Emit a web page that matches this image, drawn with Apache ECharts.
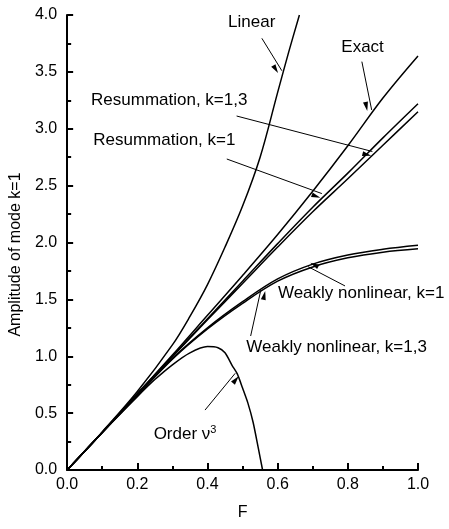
<!DOCTYPE html>
<html><head><meta charset="utf-8">
<script src="https://cdn.jsdelivr.net/npm/echarts@6/dist/echarts.min.js"></script>
<style>html,body{margin:0;padding:0;background:#fff}#c{width:449px;height:529px}</style>
</head><body><div id="c"></div>
<script>
// Shared forcing grid
const F = [0, 0.1, 0.2, 0.3, 0.4, 0.5, 0.6, 0.7, 0.8, 0.9, 1.0];
const exactA    = [0, 0.33, 0.67, 1.01, 1.36, 1.71, 2.07, 2.45, 2.85, 3.27, 3.64];
const resum13A  = [0, 0.33, 0.67, 1.00, 1.33, 1.66, 1.99, 2.31, 2.61, 2.92, 3.22];
const resum1A   = [0, 0.33, 0.665, 0.995, 1.32, 1.64, 1.96, 2.27, 2.56, 2.855, 3.15];
const weak1A    = [0, 0.33, 0.655, 0.98, 1.25, 1.48, 1.68, 1.81, 1.89, 1.94, 1.975];
const weak13A   = [0, 0.33, 0.655, 0.975, 1.24, 1.465, 1.66, 1.785, 1.865, 1.915, 1.945];
// Linear
const linearF = [0, 0.1, 0.2, 0.3, 0.35, 0.4, 0.45, 0.5, 0.55, 0.6, 0.632, 0.662];
const linearA = [0, 0.335, 0.69, 1.10, 1.35, 1.63, 1.96, 2.32, 2.75, 3.32, 3.68, 4.0];
// Order nu^3
const order3F = [0, 0.1, 0.2, 0.25, 0.3, 0.35, 0.4, 0.43, 0.45, 0.47, 0.485, 0.5, 0.515, 0.53, 0.545, 0.557];
const order3A = [0, 0.33, 0.645, 0.795, 0.925, 1.03, 1.085, 1.075, 1.03, 0.92, 0.845, 0.72, 0.59, 0.42, 0.19, 0];
// Annotation texts and anchor points (data coords)
const labelTexts = ['Linear', 'Exact', 'Resummation, k=1,3', 'Resummation, k=1', 'Weakly nonlinear, k=1', 'Weakly nonlinear, k=1,3', '{a|Order ν}{s|3}'];
const labelF = [0.526, 0.842, 0.291, 0.277, 0.838, 0.768, 0.336];
const labelA = [3.94, 3.714, 3.247, 2.894, 1.553, 1.077, 0.316];
// Arrows: from (F,A) to (F,A)
const arrowFromF = [0.555, 0.840, 0.483, 0.455, 0.792, 0.523, 0.393];
const arrowFromA = [3.795, 3.59, 3.112, 2.734, 1.618, 1.178, 0.527];
const arrowToF   = [0.612, 0.868, 0.870, 0.726, 0.687, 0.552, 0.479];
const arrowToA   = [3.51, 3.165, 2.80, 2.43, 1.787, 1.582, 0.850];

const FONT = 'Liberation Sans, Arial, sans-serif';
const zip = (xs, ys) => xs.map((x, i) => [x, ys[i]]);
const lineStyle = { color: '#000', width: 1.5 };
function curve(name, xs, ys, extra) {
  return Object.assign({
    name, type: 'line', data: zip(xs, ys), showSymbol: false, symbol: 'none',
    smooth: 0.35, lineStyle, itemStyle: { color: '#000' }, silent: true, z: 3
  }, extra || {});
}

const chart = echarts.init(document.getElementById('c'), null, { renderer: 'canvas' });
chart.setOption({
  backgroundColor: '#fff',
  animation: false,
  grid: { left: 67, right: 31, top: 15, bottom: 59, containLabel: false },
  xAxis: {
    type: 'value', min: 0, max: 1, interval: 0.2,
    name: 'F', nameLocation: 'middle', nameGap: 35,
    nameTextStyle: { color: '#000', fontSize: 16, fontFamily: FONT },
    axisLine: { lineStyle: { color: '#000', width: 2 } },
    axisTick: { inside: true, length: 7, lineStyle: { color: '#000', width: 2 } },
    minorTick: { show: true, splitNumber: 2, length: 4, lineStyle: { color: '#000', width: 2 } },
    axisLabel: { color: '#000', fontSize: 16, fontFamily: FONT, margin: 7, formatter: v => v.toFixed(1) },
    splitLine: { show: false }
  },
  yAxis: {
    type: 'value', min: 0, max: 4, interval: 0.5,
    name: 'Amplitude of mode k=1', nameLocation: 'middle', nameGap: 41,
    nameTextStyle: { color: '#000', fontSize: 16, fontFamily: FONT, padding: [0, 24, 0, 0] },
    axisLine: { lineStyle: { color: '#000', width: 2 } },
    axisTick: { inside: true, length: 6, lineStyle: { color: '#000', width: 2 } },
    minorTick: { show: true, splitNumber: 2, length: 4, lineStyle: { color: '#000', width: 2 } },
    axisLabel: { color: '#000', fontSize: 16, fontFamily: FONT, margin: 10, formatter: v => v.toFixed(1) },
    splitLine: { show: false }
  },
  series: [
    curve('Exact', F, exactA, {
      markLine: {
        silent: true, animation: false,
        symbol: ['none', 'triangle'], symbolSize: [5, 9], symbolOffset: [0, 4.5],
        label: { show: false },
        lineStyle: { color: '#000', width: 1, type: 'solid' },
        emphasis: { disabled: true },
        data: arrowFromF.map((f, i) => [
          { coord: [f, arrowFromA[i]] },
          { coord: [arrowToF[i], arrowToA[i]] }
        ])
      },
      markPoint: {
        silent: true, animation: false,
        symbol: 'circle', symbolSize: 0,
        itemStyle: { color: 'transparent' },
        label: {
          show: true, position: 'inside', color: '#000', fontSize: 17, fontFamily: FONT,
          rich: {
            a: { fontSize: 17, fontFamily: FONT, color: '#000', lineHeight: 20 },
            s: { fontSize: 11, fontFamily: FONT, color: '#000', verticalAlign: 'top', lineHeight: 11 }
          }
        },
        data: labelTexts.map((t, i) => ({ coord: [labelF[i], labelA[i]], value: 0, label: { formatter: t } }))
      }
    }),
    curve('Resummation, k=1,3', F, resum13A),
    curve('Resummation, k=1', F, resum1A),
    curve('Weakly nonlinear, k=1', F, weak1A),
    curve('Weakly nonlinear, k=1,3', F, weak13A),
    curve('Linear', linearF, linearA),
    curve('Order nu^3', order3F, order3A, { smooth: 0.25 })
  ]
});
</script></body></html>
